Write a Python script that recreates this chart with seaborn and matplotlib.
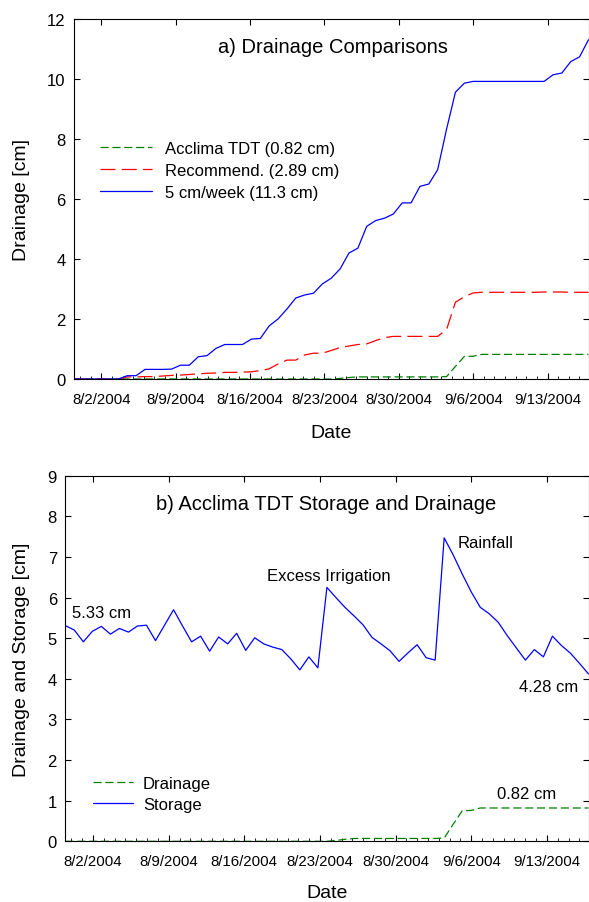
import numpy as np
import pandas as pd
import matplotlib
matplotlib.use("Agg")
import matplotlib.pyplot as plt
import matplotlib.dates as mdates
import seaborn as sns

# ---------------- data ----------------
n_points = 59
t_start = "2004-07-30 10:20"
t_end = "2004-09-16 20:25"

five_cm_week = [0, 0, 0, 0, 0, 0, 0.11, 0.11, 0.32, 0.32,
                0.32, 0.33, 0.46, 0.46, 0.74, 0.78, 1.02, 1.15, 1.15, 1.15,
                1.33, 1.35, 1.77, 2.0, 2.33, 2.7, 2.8, 2.86, 3.17, 3.36,
                3.67, 4.2, 4.36, 5.09, 5.28, 5.36, 5.5, 5.87, 5.87, 6.42,
                6.5, 6.98, 8.33, 9.56, 9.86, 9.92, 9.92, 9.92, 9.92, 9.92,
                9.92, 9.92, 9.92, 9.92, 10.14, 10.2, 10.58, 10.74, 11.31]

recommend = [0, 0, 0, 0, 0, 0, 0.07, 0.07, 0.08, 0.08,
             0.1, 0.12, 0.13, 0.15, 0.17, 0.19, 0.2, 0.22, 0.22, 0.23,
             0.24, 0.28, 0.34, 0.5, 0.63, 0.63, 0.8, 0.86, 0.86, 0.95,
             1.05, 1.1, 1.15, 1.17, 1.28, 1.38, 1.42, 1.42, 1.42, 1.42,
             1.42, 1.42, 1.65, 2.56, 2.74, 2.87, 2.89, 2.89, 2.89, 2.89,
             2.89, 2.89, 2.89, 2.9, 2.9, 2.9, 2.89, 2.89, 2.89]

acclima_drainage = [0, 0, 0, 0, 0, 0, 0, 0, 0, 0,
                    0, 0, 0, 0, 0, 0, 0, 0, 0, 0,
                    0, 0, 0, 0, 0, 0, 0, 0, 0, 0,
                    0.02, 0.05, 0.07, 0.07, 0.07, 0.07, 0.07, 0.07, 0.07, 0.07,
                    0.07, 0.07, 0.08, 0.42, 0.75, 0.76, 0.82, 0.82, 0.82, 0.82,
                    0.82, 0.82, 0.82, 0.82, 0.82, 0.82, 0.82, 0.82, 0.82]

acclima_storage = [5.31, 5.20, 4.91, 5.17, 5.29, 5.10, 5.24, 5.15, 5.30, 5.32,
                   4.94, 5.32, 5.70, 5.30, 4.91, 5.05, 4.68, 5.03, 4.86, 5.12,
                   4.70, 5.01, 4.86, 4.78, 4.72, 4.49, 4.22, 4.54, 4.27, 6.25,
                   6.00, 5.76, 5.55, 5.33, 5.02, 4.86, 4.69, 4.43, 4.64, 4.84,
                   4.52, 4.46, 7.47, 7.05, 6.58, 6.14, 5.76, 5.60, 5.39, 5.06,
                   4.76, 4.46, 4.72, 4.54, 5.05, 4.82, 4.63, 4.38, 4.12]

tick_dates = ["2004-08-02", "2004-08-09", "2004-08-16", "2004-08-23",
              "2004-08-30", "2004-09-06", "2004-09-13"]
tick_labels = ["8/2/2004", "8/9/2004", "8/16/2004", "8/23/2004",
               "8/30/2004", "9/6/2004", "9/13/2004"]

labels_a = ["Acclima TDT (0.82 cm)", "Recommend. (2.89 cm)", "5 cm/week (11.3 cm)"]
labels_b = ["Drainage", "Storage"]

dates = pd.date_range(t_start, t_end, periods=n_points)
df = pd.DataFrame({"date": dates, "five": five_cm_week, "rec": recommend,
                   "dr": acclima_drainage, "st": acclima_storage})

# ---------------- style ----------------
sns.set_theme(style="ticks")
plt.rcParams["font.family"] = ["Liberation Sans", "DejaVu Sans"]
plt.rcParams["axes.linewidth"] = 0.8
plt.rcParams["axes.edgecolor"] = "black"
plt.rcParams["text.color"] = "black"
plt.rcParams["axes.labelcolor"] = "black"
plt.rcParams["xtick.color"] = "black"
plt.rcParams["ytick.color"] = "black"
plt.rcParams["xtick.labelcolor"] = "black"
plt.rcParams["ytick.labelcolor"] = "black"

W, H = 589, 903
fig = plt.figure(figsize=(W / 100, H / 100), dpi=100)


def ax_rect(l, t, r, b):
    return [l / W, 1 - b / H, (r - l) / W, (b - t) / H]


def fx(px):
    return px / W


def fy(py):
    return 1 - py / H


GREEN = "#008000"
RED = "#ff0000"
BLUE = "#0000ff"
LW = 0.9


def style_axis(ax, ymax, ystep):
    ax.set_xlim(dates[0], dates[-1])
    ax.set_ylim(0, ymax)
    ax.set_yticks(np.arange(0, ymax + 0.001, ystep))
    ax.set_xticks(pd.to_datetime(tick_dates))
    ax.set_xticklabels(tick_labels)
    ax.xaxis.set_minor_locator(mdates.DayLocator())
    ax.tick_params(which="major", direction="in", top=True, right=True,
                   length=4, width=0.8, color="black")
    ax.tick_params(which="minor", direction="in", top=False, right=False,
                   bottom=True, length=2, width=0.6, color="black")
    ax.tick_params(axis="x", which="major", labelsize=10.8, pad=9,
                   labelcolor="black")
    ax.tick_params(axis="y", which="major", labelsize=12, pad=6,
                   labelcolor="black")
    for s in ax.spines.values():
        s.set_visible(True)
        s.set_linewidth(0.8)
        s.set_color("black")
    ax.grid(False)


# ---------------- panel a ----------------
ax1 = fig.add_axes(ax_rect(74, 20, 588.5, 380))
sns.lineplot(data=df, x="date", y="dr", ax=ax1, color=GREEN, lw=LW,
             ls=(0, (6.5, 3)), label=labels_a[0])
sns.lineplot(data=df, x="date", y="rec", ax=ax1, color=RED, lw=LW,
             ls=(0, (12, 5)), label=labels_a[1])
sns.lineplot(data=df, x="date", y="five", ax=ax1, color=BLUE, lw=LW,
             ls="-", label=labels_a[2])
style_axis(ax1, 12, 2)
ax1.set_xlabel("Date", fontsize=14, color="black")
ax1.xaxis.set_label_coords(0.5, -(434 - 380) / 360)
ax1.xaxis.label.set_va("center")
ax1.set_ylabel("Drainage [cm]", fontsize=14, va="center", color="black")
ax1.yaxis.set_label_coords((22 - 74) / 514.5, 0.5)
ax1.text((333 - 74) / 514.5, (380 - 47) / 360, "a) Drainage Comparisons",
         transform=ax1.transAxes, ha="center", va="center", fontsize=14.5,
         color="black")
leg1 = ax1.legend(loc="center left", bbox_to_anchor=(fx(100), fy(171.5)),
                  bbox_transform=fig.transFigure, frameon=False, fontsize=12,
                  handlelength=3.1, handletextpad=0.8, labelspacing=0.42,
                  borderpad=0, borderaxespad=0)
for t in leg1.get_texts():
    t.set_color("black")

# ---------------- panel b ----------------
ax2 = fig.add_axes(ax_rect(65.3, 476.7, 588.5, 842.3))
sns.lineplot(data=df, x="date", y="dr", ax=ax2, color=GREEN, lw=LW,
             ls=(0, (6.5, 3)), label=labels_b[0])
sns.lineplot(data=df, x="date", y="st", ax=ax2, color=BLUE, lw=LW,
             ls="-", label=labels_b[1])
style_axis(ax2, 9, 1)
ax2.set_xlabel("Date", fontsize=14, color="black")
ax2.xaxis.set_label_coords(0.5, -(894 - 842.3) / 365.6)
ax2.xaxis.label.set_va("center")
ax2.set_ylabel("Drainage and Storage [cm]", fontsize=14, va="center",
               color="black")
ax2.yaxis.set_label_coords((22 - 65.3) / 523.2, 0.5)
ax2.text((326 - 65.3) / 523.2, (842.3 - 505) / 365.6,
         "b) Acclima TDT Storage and Drainage",
         transform=ax2.transAxes, ha="center", va="center", fontsize=14.5,
         color="black")
leg2 = ax2.legend(loc="center left", bbox_to_anchor=(fx(93), fy(795)),
                  bbox_transform=fig.transFigure, frameon=False, fontsize=12,
                  handlelength=2.4, handletextpad=0.6, labelspacing=0.38,
                  borderpad=0, borderaxespad=0)
for t in leg2.get_texts():
    t.set_color("black")

ann = [("5.33 cm", 71.7, 614), ("Excess Irrigation", 267.3, 577),
       ("Rainfall", 457.3, 544), ("4.28 cm", 519.3, 688), ("0.82 cm", 497.3, 795)]
for txt, px, py in ann:
    fig.text(fx(px), fy(py), txt, ha="left", va="center", fontsize=12,
             color="black")

fig.savefig("out.png", dpi=100)
